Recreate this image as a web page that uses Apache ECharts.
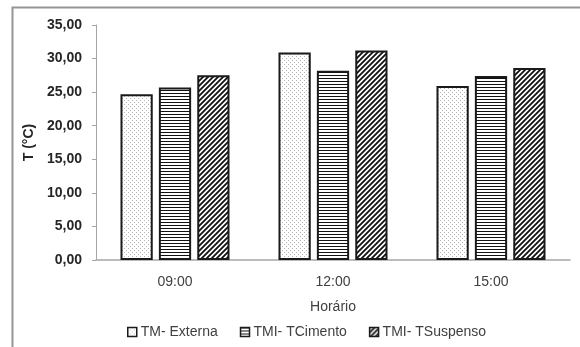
<!DOCTYPE html>
<html>
<head>
<meta charset="utf-8">
<script src="https://cdn.jsdelivr.net/npm/echarts@6/dist/echarts.min.js"></script>
<style>
  html, body { margin: 0; padding: 0; background: #fff; }
  #chart { width: 580px; height: 347px; }
</style>
</head>
<body>
<div id="chart"></div>
<script>
// Mean temperatures per time of day
const categories = ['09:00', '12:00', '15:00'];
const seriesNames = ['TM- Externa', 'TMI- TCimento', 'TMI- TSuspenso'];
const externa = [24.7, 30.9, 25.9];
const cimento = [25.7, 28.2, 27.4];
const suspenso = [27.5, 31.2, 28.6];
const yTicks = [0, 5, 10, 15, 20, 25, 30, 35];

// Fill patterns drawn on small canvases
function tile(size, draw) {
  const c = document.createElement('canvas');
  c.width = size; c.height = size;
  const ctx = c.getContext('2d');
  ctx.fillStyle = '#fff';
  ctx.fillRect(0, 0, size, size);
  draw(ctx, size);
  return c;
}
const dots = tile(4, (ctx) => {
  ctx.fillStyle = '#b4b4b4';
  ctx.fillRect(0, 0, 1, 1);
  ctx.fillRect(2, 2, 1, 1);
});
const hlines = tile(3, (ctx, s) => {
  ctx.fillStyle = '#111';
  ctx.fillRect(0, 0, s, 1);
});
const diag = tile(5, (ctx, s) => {
  ctx.strokeStyle = '#111';
  ctx.lineWidth = 1.8;
  ctx.beginPath();
  ctx.moveTo(-1, s + 1); ctx.lineTo(s + 1, -1);
  ctx.moveTo(-1, 1); ctx.lineTo(1, -1);
  ctx.moveTo(s - 1, s + 1); ctx.lineTo(s + 1, s - 1);
  ctx.stroke();
});

const fmt = (v) => v.toFixed(2).replace('.', ',');
const textColor = '#404040';
const fontFamily = 'Liberation Sans, Arial, sans-serif';

function barSeries(name, data, pattern) {
  return {
    name: name,
    type: 'bar',
    data: data,
    barGap: '19%',
    barCategoryGap: '31%',
    itemStyle: {
      color: { image: pattern, repeat: 'repeat' },
      borderColor: '#1a1a1a',
      borderWidth: 2
    },
    emphasis: { disabled: true }
  };
}

const chart = echarts.init(document.getElementById('chart'), null, { renderer: 'canvas' });
chart.setOption({
  animation: false,
  backgroundColor: '#fff',
  textStyle: { fontFamily: fontFamily },
  grid: { left: 96, right: 10, top: 25, bottom: 87, containLabel: false },
  graphic: [{
    type: 'rect',
    shape: { x: 12.5, y: 7.5, width: 700, height: 500 },
    style: { fill: 'none', stroke: '#959595', lineWidth: 2 },
    silent: true
  }],
  legend: {
    data: seriesNames,
    bottom: 3,
    left: 122,
    icon: 'rect',
    itemWidth: 9,
    itemHeight: 9,
    itemGap: 22,
    itemStyle: { borderColor: '#1a1a1a', borderWidth: 1.5 },
    textStyle: { color: textColor, fontSize: 14, fontFamily: fontFamily, padding: [0, 0, 0, -1] }
  },
  xAxis: {
    type: 'category',
    data: categories,
    name: 'Horário',
    nameLocation: 'middle',
    nameGap: 40,
    nameTextStyle: { color: textColor, fontSize: 14 },
    axisLine: { lineStyle: { color: '#a6a6a6', width: 1.5 } },
    axisTick: { show: false },
    axisLabel: { color: textColor, fontSize: 14, margin: 15 }
  },
  yAxis: {
    type: 'value',
    min: yTicks[0],
    max: yTicks[yTicks.length - 1],
    interval: yTicks[1] - yTicks[0],
    name: 'T (°C)',
    nameLocation: 'middle',
    nameRotate: 90,
    nameGap: 60,
    nameTextStyle: { color: '#262626', fontSize: 14, fontWeight: 'bold' },
    splitLine: { show: false },
    axisLine: { show: true, lineStyle: { color: '#a6a6a6', width: 1 } },
    axisTick: { show: true, length: 4, lineStyle: { color: '#a6a6a6' } },
    axisLabel: { color: '#262626', fontSize: 14, fontWeight: 'bold', margin: 14, formatter: fmt }
  },
  series: [
    barSeries(seriesNames[0], externa, dots),
    barSeries(seriesNames[1], cimento, hlines),
    barSeries(seriesNames[2], suspenso, diag)
  ]
});
</script>
</body>
</html>
